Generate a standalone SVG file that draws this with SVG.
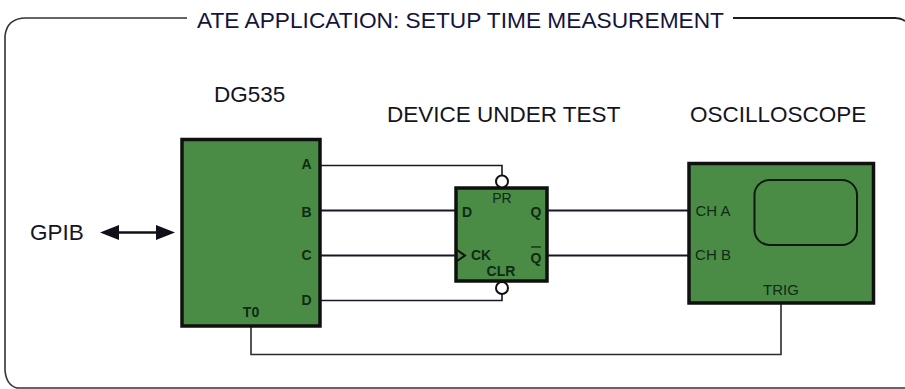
<svg xmlns="http://www.w3.org/2000/svg" width="905" height="389" viewBox="0 0 905 389">
<style>
text{font-family:"Liberation Sans",Arial,sans-serif;fill:#14141e}
.h{font-size:22.500px}
.l{font-size:14px;font-weight:bold;fill:#0f2a14;text-anchor:middle}
.n{font-size:15px;font-weight:normal}
.box{fill:#4a8c46;stroke:#101010;stroke-width:3.500}
.w{fill:none;stroke:#1a1528;stroke-width:2}
.t{fill:none;stroke:#2a2a30;stroke-width:1.600}
.c{fill:#fff;stroke:#101010;stroke-width:2}
</style>
<rect width="905" height="389" fill="#fff"/>
<g id="frame">
<path d="M187 18H26Q7 18 5 36V370Q6 385 17 388H905" fill="none" stroke="#333338" stroke-width="1.600"/>
<path d="M733 18H895Q901 18 905 21" fill="none" stroke="#1c1c24" stroke-width="1.800"/>
<text x="197" y="28" class="h" textLength="527" lengthAdjust="spacingAndGlyphs" style="fill:#14143c">ATE APPLICATION: SETUP TIME MEASUREMENT</text>
</g>
<g id="connectors">
<path class="w" d="M320 165.500H502V178" style="stroke-width:1.600"/>
<path class="w" d="M320 210.500H456"/>
<path class="w" d="M320 255.500H456"/>
<path class="w" d="M320 300.500H502V293" style="stroke-width:1.600"/>
<path class="t" d="M251 326V354.500H781V303"/>
<path class="w" d="M547 210.500H689"/>
<path class="w" d="M547 255.500H689"/>
<path d="M111 232.500H166" stroke="#101018" stroke-width="2.500" fill="none"/>
<path d="M100 232.500L119 225V240Z M175 232.500L156 225V240Z" fill="#101018"/>
</g>
<g id="dg535">
<rect class="box" x="182" y="139.500" width="138" height="186.500"/>
<text x="214" y="102" class="h">DG535</text>
<text class="l" x="306.500" y="169">A</text>
<text class="l" x="306.500" y="217">B</text>
<text class="l" x="306.500" y="260">C</text>
<text class="l" x="306.500" y="305">D</text>
<text class="l" x="251" y="317">T0</text>
</g>
<g id="gpib"><text x="30" y="240" class="h">GPIB</text></g>
<g id="dut">
<rect class="box" x="456" y="188" width="91" height="93"/>
<circle class="c" cx="502" cy="181.500" r="6"/>
<circle class="c" cx="502" cy="288" r="6"/>
<path d="M457 250L465 255.500L457 261" fill="none" stroke="#101010" stroke-width="2"/>
<text x="387" y="122" class="h">DEVICE UNDER TEST</text>
<text class="l" x="502" y="203" style="font-weight:normal">PR</text>
<text class="l" x="467" y="217">D</text>
<text class="l" x="536" y="217">Q</text>
<text class="l" x="481" y="260">CK</text>
<text class="l" x="536" y="263">Q</text>
<path d="M531 247H541" stroke="#0f2a14" stroke-width="1.300"/>
<text class="l" x="501" y="276">CLR</text>
</g>
<g id="oscilloscope">
<rect class="box" x="689" y="163.500" width="184.500" height="139.500"/>
<rect x="754.500" y="180" width="102.500" height="65" rx="15" fill="#4a8c46" stroke="#101a10" stroke-width="2"/>
<text x="690" y="122" class="h">OSCILLOSCOPE</text>
<text class="l n" x="713" y="216">CH A</text>
<text class="l n" x="713" y="260">CH B</text>
<text class="l n" x="781" y="295">TRIG</text>
</g>
</svg>
